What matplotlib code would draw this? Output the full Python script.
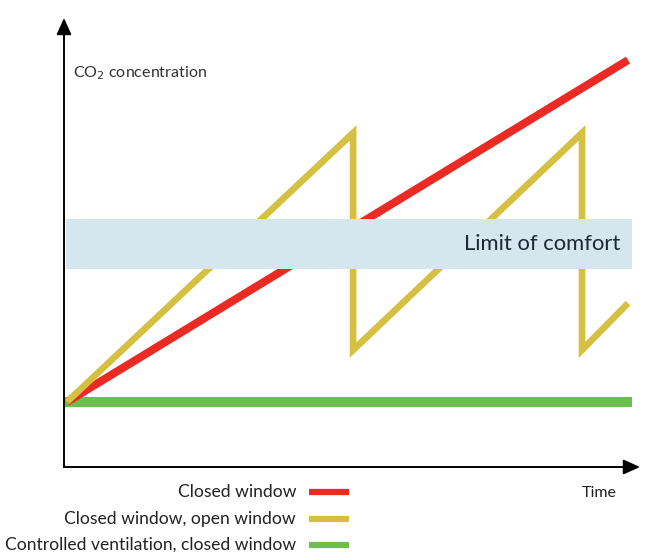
import matplotlib
matplotlib.use("Agg")
import matplotlib.pyplot as plt
from matplotlib.lines import Line2D

plt.rcParams['font.family'] = ['Lato', 'DejaVu Sans']

# ---- data (arbitrary units: time, CO2 concentration) ----
closed_t = [0.05, 9.93]
closed_c = [1.0, 6.26]

mixed_t = [0.05, 5.09, 5.09, 9.12, 9.12, 9.93]
mixed_c = [1.0, 5.14, 1.80, 5.14, 1.80, 2.52]

vent_t = [0.0, 10.0]
vent_c = [1.0, 1.0]

comfort_low, comfort_high = 3.05, 3.82
comfort_label = "Limit of comfort"

series_labels = ["Closed window", "Closed window, open window",
                 "Controlled ventilation, closed window"]
series_colors = ["#ec2a24", "#d6c042", "#6dbd4f"]

W, H = 647, 552
fig = plt.figure(figsize=(W / 100, H / 100), dpi=100)

# main axes: origin at pixel (64, 467), top at y=18, right at x=640
x0, y0, x1, y1 = 64, 467, 640, 18
ax = fig.add_axes([x0 / W, (H - y0) / H, (x1 - x0) / W, (y0 - y1) / H])
ax.set_xlim(0, (x1 - x0) / 56.8)
ax.set_ylim(0, (y0 - y1) / 65.0)
ax.set_axis_off()

ax.plot(vent_t, vent_c, color=series_colors[2], lw=7.2, solid_capstyle="butt", zorder=2)
ax.plot(closed_t, closed_c, color=series_colors[0], lw=5.8, solid_capstyle="butt", zorder=3)
ax.plot(mixed_t, mixed_c, color=series_colors[1], lw=4.8, solid_capstyle="butt",
        solid_joinstyle="miter", zorder=4)

# comfort band (drawn over the lines)
ax.axhspan(comfort_low, comfort_high, xmin=0.03 / ax.get_xlim()[1],
           xmax=10.0 / ax.get_xlim()[1], color="#d5e6ee", zorder=5, lw=0)
ax.text(9.8, (comfort_low + comfort_high) / 2, comfort_label, ha="right",
        va="center", fontsize=15.8, color="#1e2838", zorder=6)

# axis arrows
arrow = dict(arrowstyle="-|>,head_length=1.0,head_width=0.45", color="black", lw=1.4,
             shrinkA=0, shrinkB=0)
ax.annotate("", xy=(1, 0), xytext=(0, 0), xycoords="axes fraction",
            textcoords="axes fraction", arrowprops=arrow, zorder=7)
ax.annotate("", xy=(0, 1), xytext=(0, 0), xycoords="axes fraction",
            textcoords="axes fraction", arrowprops=arrow, zorder=7)

ax.text(0.16, 6.06, "CO$_2$ concentration", ha="left", va="center",
        fontsize=11.5, color="#333333")

# overlay in pixel coordinates for labels and legend
ov = fig.add_axes([0, 0, 1, 1], facecolor="none")
ov.set_xlim(0, W)
ov.set_ylim(H, 0)
ov.set_axis_off()

ov.text(599, 493, "Time", ha="center", va="center", fontsize=11.5, color="#222222")

rows_y = [492, 519, 545]
for lab, col, yy in zip(series_labels, series_colors, rows_y):
    ov.text(296, yy, lab, ha="right", va="center", fontsize=12.6, color="#222222")
    ov.add_line(Line2D([309, 349], [yy, yy], color=col, lw=4.5, solid_capstyle="butt"))

fig.savefig("out.png", dpi=100)
